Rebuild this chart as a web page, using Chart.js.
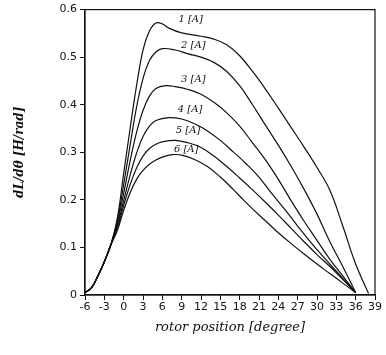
<!DOCTYPE html>
<html>
<head>
<meta charset="utf-8">
<script src="https://cdn.jsdelivr.net/npm/chart.js@4"></script>
<style>
html,body{margin:0;padding:0;background:#fff;}
</style>
</head>
<body>
<canvas id="grafico" width="386" height="355"></canvas>
<script>
// rotor position [degree] / dL/dθ [H/rad], one pair per current
const deg1 = [-6,-5,-4,-3,-2,-1,0,1,2,3,4,5,6,7,9,12,14,16,18,20,22,24,26,28,30,32,34,36,38];
const val1 = [0.005,0.015,0.04,0.07,0.105,0.16,0.255,0.35,0.44,0.515,0.555,0.572,0.57,0.561,0.551,0.544,0.538,0.526,0.503,0.47,0.433,0.393,0.352,0.311,0.268,0.22,0.145,0.065,0.003];

const deg2 = [-6,-5,-4,-3,-2,-1,0,1,2,3,4,5,6,8,10,12,14,16,18,20,22,24,26,28,30,32,34,36];
const val2 = [0.005,0.015,0.04,0.07,0.105,0.155,0.232,0.315,0.395,0.455,0.493,0.511,0.518,0.515,0.507,0.5,0.489,0.47,0.44,0.4,0.357,0.315,0.27,0.222,0.17,0.112,0.06,0.005];

const deg3 = [-6,-5,-4,-3,-2,-1,0,1,2,3,4,5,6.5,8,10,12,14,16,18,20,22,24,26,28,30,32,34,36];
const val3 = [0.005,0.015,0.04,0.07,0.105,0.15,0.213,0.282,0.342,0.388,0.418,0.434,0.44,0.438,0.432,0.422,0.405,0.383,0.355,0.32,0.284,0.243,0.198,0.155,0.115,0.075,0.04,0.005];

const deg4 = [-6,-5,-4,-3,-2,-1,0,1,2,3,4,5,7,9,11,13,15,17,19,21,23,25,27,29,31,33,35,36];
const val4 = [0.005,0.015,0.04,0.07,0.105,0.145,0.198,0.252,0.298,0.333,0.355,0.367,0.373,0.37,0.36,0.345,0.325,0.301,0.276,0.248,0.213,0.18,0.145,0.111,0.08,0.05,0.02,0.005];

const deg5 = [-6,-5,-4,-3,-2,-1,0,1,2,3,4,5,6,8,10,12,14,16,18,20,22,24,26,28,30,32,34,36];
const val5 = [0.005,0.015,0.04,0.07,0.105,0.14,0.188,0.232,0.267,0.292,0.308,0.317,0.322,0.325,0.32,0.31,0.292,0.27,0.246,0.221,0.195,0.168,0.14,0.112,0.085,0.06,0.033,0.005];

const deg6 = [-6,-5,-4,-3,-2,-1,0,1,2,3,4,5,6,7.5,9,11,13,15,17,18.5,20,22,24,26,28,30,32,34,36];
const val6 = [0.005,0.015,0.04,0.07,0.105,0.135,0.178,0.215,0.243,0.262,0.275,0.284,0.29,0.295,0.294,0.285,0.27,0.248,0.222,0.201,0.181,0.156,0.131,0.108,0.086,0.065,0.045,0.025,0.005];

const rotulos = ["1 [A]","2 [A]","3 [A]","4 [A]","5 [A]","6 [A]"];
const rotuloX = [10.4,10.8,10.8,10.3,10.0,9.7];
const rotuloY = [0.58,0.525,0.453,0.39,0.346,0.306];

const series = [[deg1,val1],[deg2,val2],[deg3,val3],[deg4,val4],[deg5,val5],[deg6,val6]];

// moldura + rótulos das curvas
const moldura = {
    id:'moldura',
    afterDatasetsDraw(chart){
        const {ctx, chartArea:a, scales} = chart;
        ctx.save();
        ctx.strokeStyle = '#111';
        ctx.lineWidth = 1.2;
        ctx.strokeRect(a.left, a.top, a.right-a.left, a.bottom-a.top);
        ctx.fillStyle = '#111';
        ctx.font = 'italic 10px "DejaVu Serif"';
        ctx.textAlign = 'center';
        ctx.textBaseline = 'middle';
        rotulos.forEach((t,i)=>{
            ctx.fillText(t, scales.x.getPixelForValue(rotuloX[i]), scales.y.getPixelForValue(rotuloY[i]));
        });
        ctx.restore();
    }
};

new Chart(document.getElementById('grafico'),{
    type:'line',
    data:{
        datasets: series.map(s=>({
            data: s[0].map((x,i)=>({x:x, y:s[1][i]})),
            borderColor:'#111',
            borderWidth:1.2,
            pointRadius:0,
            fill:false,
            tension:0.4
        }))
    },
    options:{
        responsive:false,
        animation:false,
        layout:{padding:{top:9,right:11,left:0,bottom:20}},
        plugins:{legend:{display:false}, tooltip:{enabled:false}},
        scales:{
            x:{
                type:'linear', min:-6, max:39,
                afterFit(s){ s.height = 40; },
                border:{color:'#111', width:1.2},
                grid:{drawOnChartArea:false, drawTicks:true, tickLength:5, color:'#111'},
                ticks:{stepSize:3, autoSkip:false, maxRotation:0, color:'#111', padding:1,
                    font:{family:'"DejaVu Sans"', size:11}},
                title:{display:true, text:'rotor position [degree]', color:'#111',
                    font:{family:'"DejaVu Serif"', style:'italic', size:13}, padding:{top:0, bottom:0}}
            },
            y:{
                min:0, max:0.6,
                afterFit(s){ s.width = 85; },
                border:{color:'#111', width:1.2},
                grid:{drawOnChartArea:false, drawTicks:true, tickLength:5, color:'#111'},
                ticks:{stepSize:0.1, color:'#111', padding:3,
                    font:{family:'"DejaVu Sans"', size:11},
                    callback:v=> v===0 ? '0' : v.toFixed(1)},
                title:{display:true, text:'dL/dθ [H/rad]', color:'#111',
                    font:{family:'"DejaVu Serif"', style:'italic', weight:'bold', size:12}, padding:{top:13, bottom:0}}
            }
        }
    },
    plugins:[moldura]
});
</script>
</body>
</html>
